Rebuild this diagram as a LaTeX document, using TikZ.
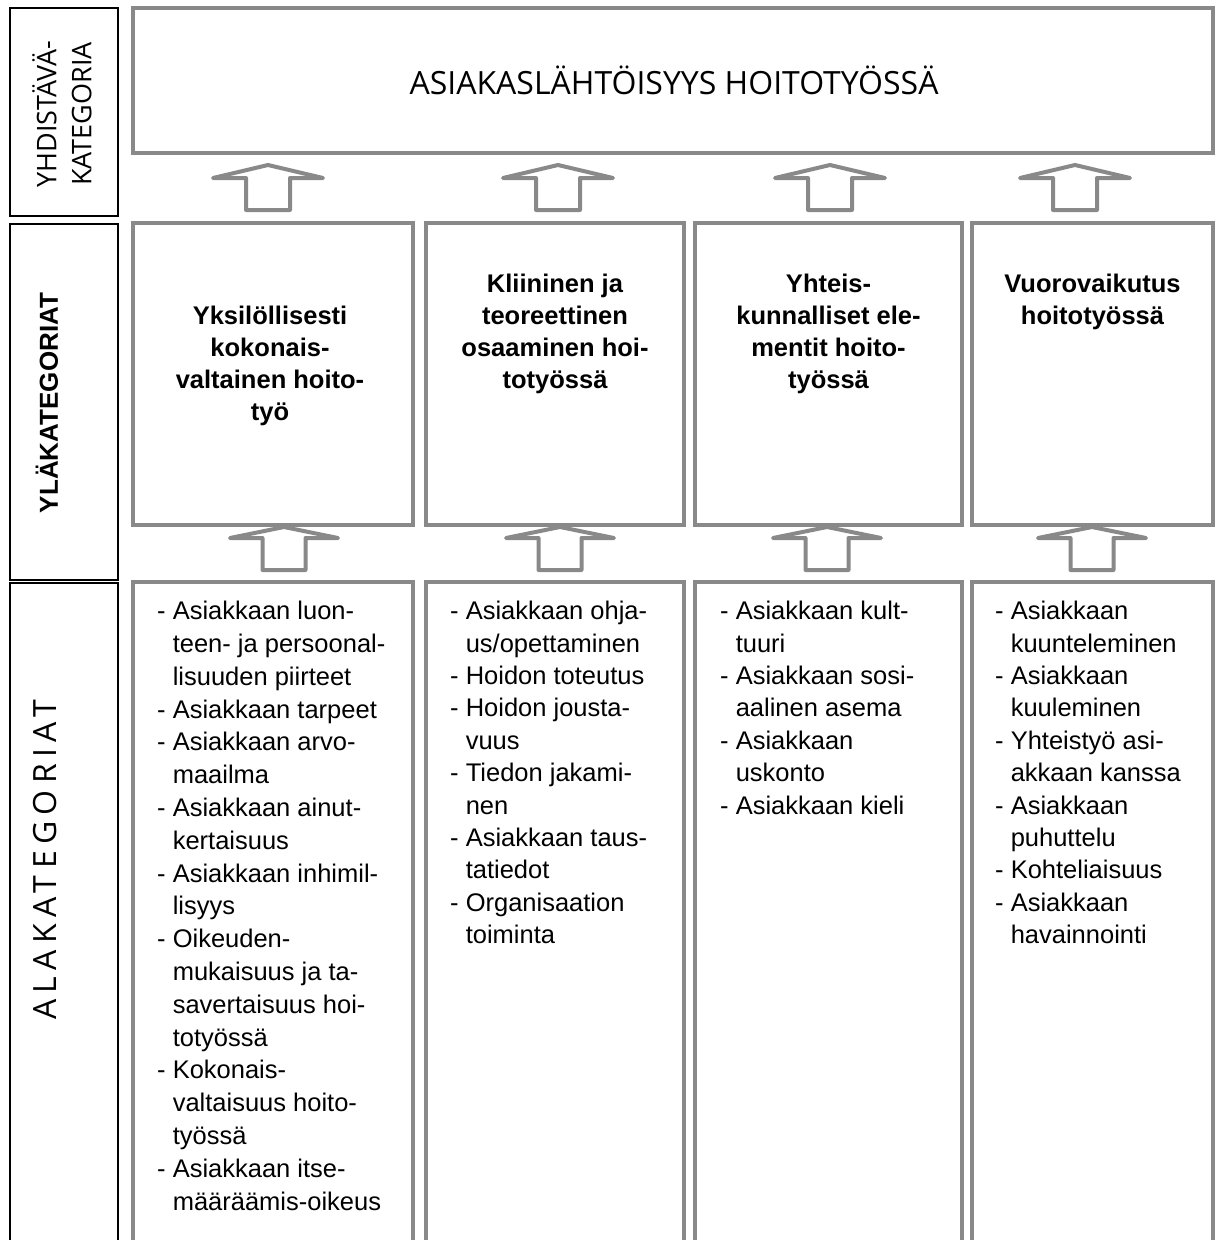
\documentclass[tikz,border=0pt]{standalone}
\usepackage{fontspec}
\setmainfont{Liberation Sans}
\newfontfamily\lightfont{Open Sans}
\newfontfamily\lightwide[LetterSpace=20]{Open Sans}
\definecolor{boxgray}{RGB}{137,137,137}
\newcommand\ind{\phantom{- }}
\tikzset{
  graybox/.style={draw=boxgray, line width=4pt, inner sep=0pt},
  labelbox/.style={draw=black, line width=2pt, inner sep=0pt},
  blockarrow/.style={draw=boxgray, line width=4pt, line join=round, fill=white},
  cattitle/.style={font=\fontsize{25.5}{32}\selectfont\bfseries, align=center, anchor=north, inner sep=0pt},
  listtext/.style={align=left, anchor=north west, inner sep=0pt, font=\fontsize{25.5}{32.4}\selectfont},
  uparrowtop/.pic={\draw[blockarrow] (0,0) -- (55,13) -- (22,13) -- (22,45) -- (-22,45) -- (-22,13) -- (-55,13) -- cycle;},
  uparrowlow/.pic={\draw[blockarrow] (0,0) -- (54,11) -- (21.5,11) -- (21.5,43) -- (-21.5,43) -- (-21.5,11) -- (-54,11) -- cycle;},
}
\begin{document}
\begin{tikzpicture}[x=1pt,y=-1pt]
\useasboundingbox (0,0) rectangle (1220,1240);
\clip (0,0) rectangle (1220,1240);
\fill[white] (0,0) rectangle (1220,1240);

% left label column
\node[labelbox, minimum width=108, minimum height=208] (lA) at (64,112) {};
\node[labelbox, minimum width=108, minimum height=356] (lB) at (64,402) {};
\node[labelbox, minimum width=108, minimum height=680] (lC) at (64,923) {};
\node[rotate=90, font=\lightfont\fontsize{27}{35}\selectfont, align=center] (tA) at (62,114) {YHDISTÄVÄ-\\KATEGORIA};
\node[rotate=90, font=\fontsize{26}{26}\selectfont\bfseries] (tB) at (47,403) {YLÄKATEGORIAT};
\node[rotate=90, font=\lightwide\fontsize{32}{32}\selectfont] (tC) at (45,860) {ALAKATEGORIAT};

% top box
\node[graybox, minimum width=1080, minimum height=145] (top) at (673,80.5) {};
\node[font=\lightfont\fontsize{32}{32}\selectfont] (toptext) at (674,80) {ASIAKASLÄHTÖISYYS HOITOTYÖSSÄ};

% category boxes
\node[graybox, minimum width=280, minimum height=302] (c1) at (273,374) {};
\node[graybox, minimum width=258, minimum height=302] (c2) at (555,374) {};
\node[graybox, minimum width=267, minimum height=302] (c3) at (828.5,374) {};
\node[graybox, minimum width=241, minimum height=302] (c4) at (1092.5,374) {};

\node[cattitle] (h1) at (270,306) {Yksilöllisesti\\kokonais-\\valtainen hoito-\\työ};
\node[cattitle] (h2) at (555,274) {Kliininen ja\\teoreettinen\\osaaminen hoi-\\totyössä};
\node[cattitle] (h3) at (828.5,274) {Yhteis-\\kunnalliset ele-\\mentit hoito-\\työssä};
\node[cattitle] (h4) at (1092.5,274) {Vuorovaikutus\\hoitotyössä};

% sub-category boxes
\node[graybox, minimum width=280, minimum height=680] (s1) at (273,922) {};
\node[graybox, minimum width=258, minimum height=680] (s2) at (555,922) {};
\node[graybox, minimum width=267, minimum height=680] (s3) at (828.5,922) {};
\node[graybox, minimum width=241, minimum height=680] (s4) at (1092.5,922) {};

\node[listtext, font=\fontsize{25.5}{32.8}\selectfont] (l1) at (157,601) {- Asiakkaan luon-\\\ind teen- ja persoonal-\\\ind lisuuden piirteet\\
- Asiakkaan tarpeet\\
- Asiakkaan arvo-\\\ind maailma\\
- Asiakkaan ainut-\\\ind kertaisuus\\
- Asiakkaan inhimil-\\\ind lisyys\\
- Oikeuden-\\\ind mukaisuus ja ta-\\\ind savertaisuus hoi-\\\ind totyössä\\
- Kokonais-\\\ind valtaisuus hoito-\\\ind työssä\\
- Asiakkaan itse-\\\ind määräämis-oikeus};

\node[listtext] (l2) at (450,601) {- Asiakkaan ohja-\\\ind us/opettaminen\\
- Hoidon toteutus\\
- Hoidon jousta-\\\ind vuus\\
- Tiedon jakami-\\\ind nen\\
- Asiakkaan taus-\\\ind tatiedot\\
- Organisaation\\\ind toiminta};

\node[listtext] (l3) at (720,601) {- Asiakkaan kult-\\\ind tuuri\\
- Asiakkaan sosi-\\\ind aalinen asema\\
- Asiakkaan\\\ind uskonto\\
- Asiakkaan kieli};

\node[listtext] (l4) at (995,601) {- Asiakkaan\\\ind kuunteleminen\\
- Asiakkaan\\\ind kuuleminen\\
- Yhteistyö asi-\\\ind akkaan kanssa\\
- Asiakkaan\\\ind puhuttelu\\
- Kohteliaisuus\\
- Asiakkaan\\\ind havainnointi};

% block arrows
\pic at (268,165) {uparrowtop};
\pic at (558,165) {uparrowtop};
\pic at (830,165) {uparrowtop};
\pic at (1075,165) {uparrowtop};
\pic at (284,527) {uparrowlow};
\pic at (560,527) {uparrowlow};
\pic at (827,527) {uparrowlow};
\pic at (1092,527) {uparrowlow};
\end{tikzpicture}
\end{document}
